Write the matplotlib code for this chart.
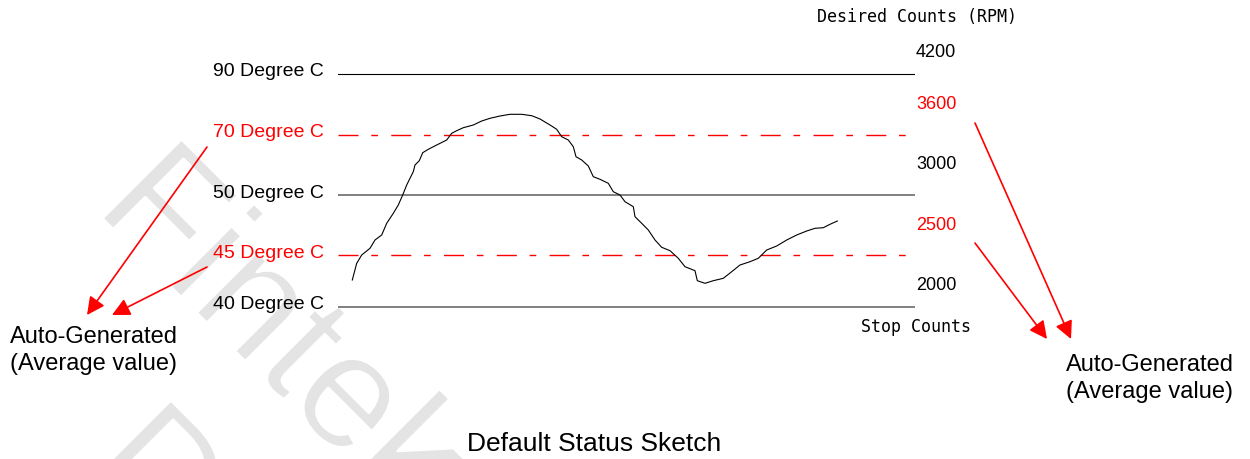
import matplotlib
matplotlib.use('Agg')
import matplotlib.pyplot as plt
from matplotlib import patheffects as pe

# temperature levels (left side) and their sketch heights above the 40 C line
level_labels = ['90 Degree C', '70 Degree C', '50 Degree C', '45 Degree C', '40 Degree C']
level_auto = [False, True, False, True, False]
level_y = [232.5, 172, 111.5, 51.5, 0]

# fan counts (right side)
rpm_labels = ['4200', '3600', '3000', '2500', '2000']
rpm_auto = [False, True, False, True, False]
rpm_y = [256.5, 204.5, 144.5, 84, 23.5]

# temperature trace (time, height)
curve_t = [14.3, 18.7, 23.7, 32, 37, 43.7, 48.7, 55.3, 60.3, 64.7, 68.7, 72, 75.3, 77,
           81.3, 84.7, 90.3, 98.7, 108.7, 113.7, 118.7, 125.3, 135.3, 143.7, 152, 162,
           172, 183.7, 193.7, 202, 212, 218.7, 223.7, 230.3, 235.3, 238, 243.7, 250.3,
           255.3, 262, 270.3, 275.3, 282, 287, 295.3, 297, 303.7, 310.3, 317, 323.7,
           332, 340.3, 347, 357, 359.3, 367, 375.3, 385.3, 393.7, 402, 412, 420.3,
           428.7, 438.7, 448.7, 458.7, 468.7, 477, 485.3, 492, 499.3]
curve_h = [26.5, 43.2, 51.5, 58.2, 66.5, 71.5, 83.2, 93.2, 101.5, 111.5, 121.5, 128.2,
           134.8, 141.5, 145.8, 153.8, 157.2, 161.5, 166.5, 173.2, 175.8, 178.8, 181.5,
           185.5, 188.2, 190.5, 192.2, 192.2, 190.8, 187.5, 181.5, 177.2, 169.8, 166.5,
           159.8, 149.8, 146.5, 140.5, 129.8, 127.2, 123.2, 114.8, 111.5, 104.8, 99.8,
           89.8, 83.2, 76.5, 66.5, 59.2, 55.8, 48.2, 39.8, 35.8, 25.8, 23.2, 25.8, 28.2,
           34.8, 41.5, 44.8, 48.2, 56.5, 60.5, 66.5, 71.5, 75.5, 78.2, 78.8, 82.2, 85.5]

SANS = 'Liberation Sans'
MONO = 'DejaVu Sans Mono'
RED = '#ff0000'

fig = plt.figure(figsize=(12.5, 4.59), dpi=100)
fig.patch.set_facecolor('white')

# watermark (slightly thinned with a white stroke)
wm = dict(rotation=-45, rotation_mode='anchor', ha='left', va='baseline',
          fontsize=117, color='#e4e4e4', family=SANS, zorder=-5,
          path_effects=[pe.Normal(), pe.Stroke(linewidth=1.8, foreground='white')])
fig.text(0.0744, 0.5447, 'Fintek', **wm)
fig.text(0.0659, -0.024, 'Draft', **wm)

ax = fig.add_axes([0.2704, 0, 0.4616, 1])
ax.set_xlim(0, 577)
ax.set_ylim(-152.5, 306.5)
ax.axis('off')

for lab, auto, y in zip(level_labels, level_auto, level_y):
    if auto:
        ax.plot([0, 577], [y, y], color=RED, lw=1.0, linestyle=(0, (14.4, 9.2, 4.8, 9.6)))
        col = RED
    elif y > 200:
        ax.plot([0, 577], [y, y], color='black', lw=0.8)
        col = 'black'
    else:
        ax.plot([0, 577], [y, y], color='#808080', lw=1.4)
        col = 'black'
    ax.text(-14, y + 2, lab, ha='right', va='center', fontsize=14, color=col, family=SANS)

for lab, auto, y in zip(rpm_labels, rpm_auto, rpm_y):
    ax.text(578, y - 2.5, lab, ha='left', va='center', fontsize=13,
            color=RED if auto else 'black', family=SANS)

ax.plot(curve_t, curve_h, color='black', lw=0.8)

ax.text(479, 289.8, 'Desired Counts (RPM)', ha='left', va='center', fontsize=12, family=MONO)
ax.text(523, -20, 'Stop Counts', ha='left', va='center', fontsize=12, family=MONO)

ax.text(-328, -44, 'Auto-Generated\n(Average value)', ha='left', va='center',
        fontsize=17, family=SANS, linespacing=1.3)
ax.text(728, -72, 'Auto-Generated\n(Average value)', ha='left', va='center',
        fontsize=17, family=SANS, linespacing=1.3)
ax.text(256, -137.5, 'Default Status Sketch', ha='center', va='center', fontsize=19, family=SANS)

arrow = dict(arrowstyle='-|>', color=RED, lw=1.2, mutation_scale=27, shrinkA=0, shrinkB=0)
for (x0, y0), (x1, y1) in [((-131, 159.5), (-251, -8.5)),
                           ((-131, 39.5), (-226, -8.5)),
                           ((637, 183.5), (733, -32.5)),
                           ((637, 63.5), (709, -32.5))]:
    ax.annotate('', xy=(x1, y1), xytext=(x0, y0), arrowprops=arrow, annotation_clip=False)

fig.savefig('out.png', dpi=100)
